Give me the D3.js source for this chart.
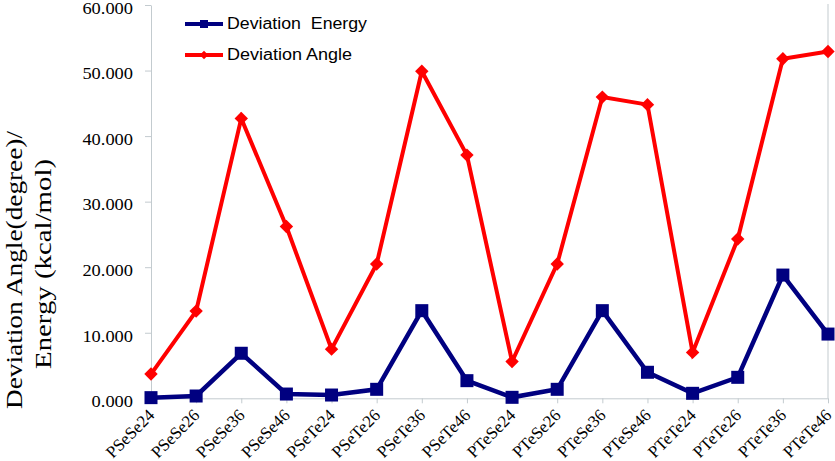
<!DOCTYPE html>
<html>
<head>
<meta charset="utf-8">
<script src="https://cdn.jsdelivr.net/npm/d3@7/dist/d3.min.js"></script>
<style>
  html, body { margin: 0; padding: 0; background: #fff; }
  svg { display: block; }
</style>
</head>
<body>
<svg id="chart" width="835" height="461"></svg>
<script>
const categories = ["PSeSe24","PSeSe26","PSeSe36","PSeSe46","PSeTe24","PSeTe26","PSeTe36","PSeTe46",
                    "PTeSe24","PTeSe26","PTeSe36","PTeSe46","PTeTe24","PTeTe26","PTeTe36","PTeTe46"];
const energyValues = [0.10, 0.35, 6.87, 0.65, 0.50, 1.37, 13.37, 2.69, 0.15, 1.37, 13.37, 3.97, 0.76, 3.20, 18.80, 9.80];
const angleValues  = [3.7, 13.3, 42.7, 26.2, 7.5, 20.5, 49.9, 37.1, 5.6, 20.5, 45.95, 44.8, 7.0, 24.3, 51.8, 52.9];
const yTicks = [0, 10, 20, 30, 40, 50, 60];
const seriesNames = ["Deviation  Energy", "Deviation Angle"];
const yTitleLines = ["Deviation Angle(degree)/", "Energy (kcal/mol)"];

const svg = d3.select("#chart");
const plotLeft = 151, plotRight = 828, plotTop = 5, plotBottom = 398.3;
const axisColor = "#c3cbcf";
const blue = "#000080", red = "#ff0000";
const serif = "'Liberation Serif','Times New Roman',serif";
const sans = "'Liberation Sans',Arial,sans-serif";

const x = d3.scalePoint().domain(categories).range([plotLeft, plotRight]).padding(0);
const y = d3.scaleLinear().domain([0, 60]).range([plotBottom, plotTop]);

function stretch(sel, len) {
  sel.attr("textLength", len).attr("lengthAdjust", "spacingAndGlyphs");
}

// right border
svg.append("line").attr("x1", plotRight).attr("x2", plotRight).attr("y1", y(60) - 1).attr("y2", plotBottom)
  .attr("stroke", axisColor).attr("stroke-width", 1);

// y axis
const gy = svg.append("g").attr("transform", `translate(${plotLeft},0)`)
  .call(d3.axisLeft(y).tickValues(yTicks).tickFormat(d3.format(".3f")).tickSize(6).tickSizeOuter(0));
gy.select(".domain").attr("stroke", axisColor);
gy.selectAll(".tick line").attr("stroke", axisColor);
gy.selectAll(".tick text").attr("x", -18).attr("dy", "0.52em")
  .attr("font-family", serif).attr("font-size", 16).attr("fill", "#000")
  .each(function() { const n = this; d3.select(n).attr("textLength", n.getComputedTextLength() * 1.15).attr("lengthAdjust", "spacingAndGlyphs"); });

// x axis
const gx = svg.append("g").attr("transform", `translate(0,${plotBottom})`)
  .call(d3.axisBottom(x).tickSize(5).tickSizeOuter(0));
gx.select(".domain").attr("stroke", axisColor);
gx.selectAll(".tick line").attr("stroke", axisColor);
gx.selectAll(".tick text").attr("x", 0).attr("y", 0).attr("dy", 0)
  .attr("transform", "translate(4,18) rotate(-45)")
  .attr("text-anchor", "end")
  .attr("font-family", serif).attr("font-size", 17).attr("fill", "#000");

// y title
const titleG = svg.append("g").attr("font-family", serif).attr("font-size", 24).attr("fill", "#000");
titleG.append("text").attr("transform", "translate(22,270) rotate(-90)").attr("text-anchor", "middle")
  .text(yTitleLines[0]).call(stretch, 278);
titleG.append("text").attr("transform", "translate(51,264) rotate(-90)").attr("text-anchor", "middle")
  .text(yTitleLines[1]).call(stretch, 210);

// lines
const line = d3.line().x((d, i) => x(categories[i])).y(d => y(d));
svg.append("path").datum(angleValues).attr("d", line)
  .attr("fill", "none").attr("stroke", red).attr("stroke-width", 4).attr("stroke-linejoin", "miter");
svg.append("path").datum(energyValues).attr("d", line)
  .attr("fill", "none").attr("stroke", blue).attr("stroke-width", 4.5).attr("stroke-linejoin", "miter");

// markers
const diamond = d3.symbol().type(d3.symbolSquare).size(90);
svg.append("g").selectAll("path").data(angleValues).join("path")
  .attr("d", diamond)
  .attr("transform", (d, i) => `translate(${x(categories[i])},${y(d)}) rotate(45)`)
  .attr("fill", red);
svg.append("g").selectAll("rect").data(energyValues).join("rect")
  .attr("x", (d, i) => x(categories[i]) - 6.5).attr("y", d => y(d) - 6.5)
  .attr("width", 13).attr("height", 13).attr("fill", blue);

// legend
const legend = svg.append("g");
const legendRows = [{name: seriesNames[0], color: blue, y: 24, len: 140, shape: "square"},
                    {name: seriesNames[1], color: red, y: 55, len: 125, shape: "diamond"}];
legendRows.forEach(r => {
  legend.append("line").attr("x1", 185).attr("x2", 223).attr("y1", r.y).attr("y2", r.y)
    .attr("stroke", r.color).attr("stroke-width", 4);
  if (r.shape === "square") {
    legend.append("rect").attr("x", 200).attr("y", r.y - 4).attr("width", 8).attr("height", 8).attr("fill", r.color);
  } else {
    legend.append("path").attr("d", d3.symbol().type(d3.symbolSquare).size(36))
      .attr("transform", `translate(204,${r.y}) rotate(45)`).attr("fill", r.color);
  }
  legend.append("text").attr("x", 227).attr("y", r.y + 4.5)
    .attr("font-family", sans).attr("font-size", 16).attr("fill", "#000")
    .attr("xml:space", "preserve").style("white-space", "pre")
    .text(r.name).call(stretch, r.len);
});
</script>
</body>
</html>
